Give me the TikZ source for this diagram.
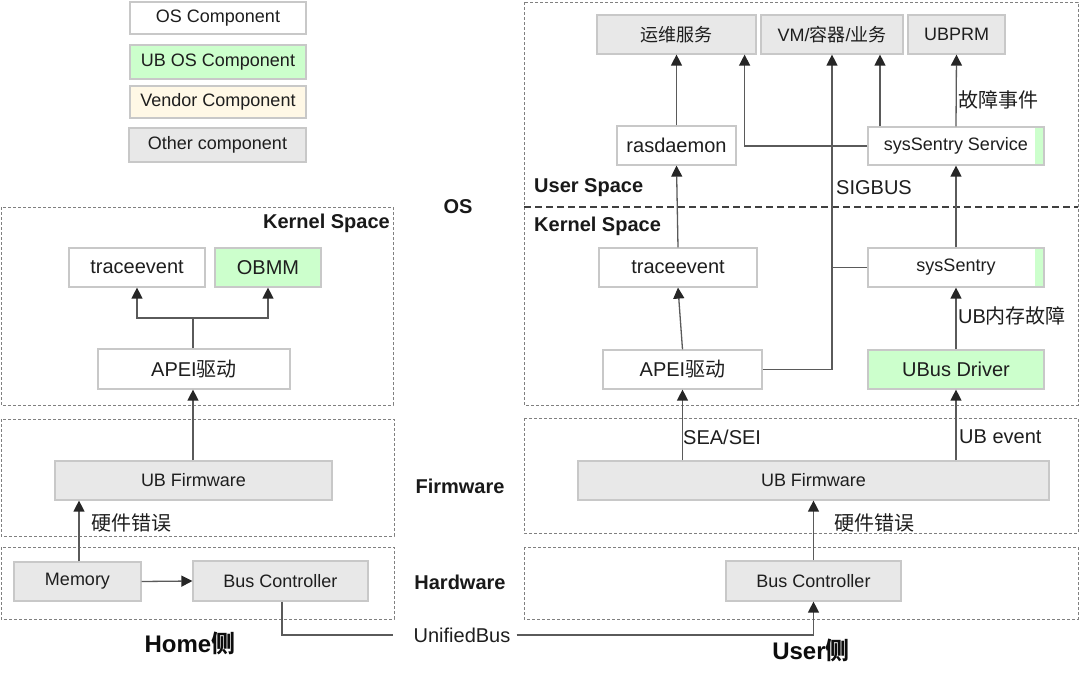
\documentclass[tikz,border=0pt]{standalone}
\usepackage{fontspec}
\setmainfont{Liberation Sans}
\newfontfamily\cjk{Noto Sans CJK SC}
\usetikzlibrary{arrows.meta}
\newcommand\zh[1]{{\cjk #1}}
\definecolor{boxline}{HTML}{C8C8C8}
\definecolor{ubgreen}{HTML}{CCFFCC}
\definecolor{vendorc}{HTML}{FFF8E6}
\definecolor{othergray}{HTML}{E8E8E8}
\definecolor{framecol}{HTML}{808080}
\definecolor{linecol}{HTML}{5A5A5A}
\definecolor{txt}{HTML}{1E1E1E}
\tikzset{
  box/.style={draw=boxline, line width=1.2pt, inner sep=0pt, text=txt, font=\fontsize{18}{20}\selectfont},
  wbox/.style={box, fill=white},
  gbox/.style={box, fill=ubgreen},
  obox/.style={box, fill=othergray},
  vbox/.style={box, fill=vendorc},
  ssbox/.style={wbox, path picture={\fill[ubgreen] ([xshift=-9pt]path picture bounding box.north east) rectangle (path picture bounding box.south east);}},
  kfont/.style={font=\fontsize{20}{22}\selectfont},
  frame/.style={draw=framecol, line width=1pt, dash pattern=on 3pt off 2pt},
  sepline/.style={draw=black!75, line width=2pt, dash pattern=on 7pt off 4pt},
  ln/.style={draw=linecol, line width=1.3pt},
  arr/.style={ln, -{Triangle[length=11pt,width=11pt,color=black!85]}},
  lbl/.style={text=txt, font=\fontsize{20}{22}\selectfont, inner sep=0pt, anchor=west},
  blbl/.style={font=\bfseries\fontsize{20}{22}\selectfont, text=black!90, inner sep=0pt},
  slbl/.style={font=\bfseries\fontsize{24}{26}\selectfont, text=black!95, inner sep=0pt},
}
\begin{document}
\begin{tikzpicture}[x=1pt,y=-1pt]
\useasboundingbox[fill=white] (0,0) rectangle (1080,681);

% ---- frames ----
\draw[frame] (1,207) rectangle (393,405);
\draw[frame] (1,419) rectangle (394,536);
\draw[frame] (1,547) rectangle (394,619);
\draw[frame] (524,2) rectangle (1078,405);
\draw[sepline] (524,207) -- (1078,207);
\draw[frame] (524,418) rectangle (1078,533);
\draw[frame] (524,547) rectangle (1078,619);

% ---- legend ----
\node[wbox, minimum width=176pt, minimum height=32pt] (lg1) at (218,18) {OS Component};
\node[gbox, minimum width=176pt, minimum height=34pt] (lg2) at (218,62) {UB OS Component};
\node[vbox, minimum width=176pt, minimum height=32pt] (lg3) at (218,102) {Vendor Component};
\node[obox, minimum width=177pt, minimum height=34pt] (lg4) at (217.5,145) {Other component};

% ---- left side (Home) ----
\node[wbox, kfont, minimum width=136pt, minimum height=39pt] (Ltrace) at (137,267.5) {traceevent};
\node[gbox, kfont, minimum width=106pt, minimum height=39pt] (Lobmm) at (268,267.5) {OBMM};
\node[wbox, kfont, minimum width=192pt, minimum height=40pt] (Lapei) at (194,369) {APEI\zh{驱动}};
\node[obox, minimum width=277pt, minimum height=39pt] (Lfw) at (193.5,480.5) {UB Firmware};
\node[obox, minimum width=127pt, minimum height=39pt] (Lmem) at (77.5,581.5) {Memory};
\node[obox, minimum width=175pt, minimum height=40pt] (Lbus) at (280.5,581) {Bus Controller};

\node[blbl, anchor=east] (LkLbl) at (390,223) {Kernel Space};
\node[lbl] (Lhw) at (91,523) {\zh{硬件错误}};
\node[slbl] (home) at (190,643) {Home\zh{侧}};

\coordinate (Lj) at (193,318);
\draw[ln] (Lapei.north -| Lj) -- (Lj);
\draw[arr] (Lj) -| (Ltrace.south);
\draw[arr] (Lj) -| (Lobmm.south);
\draw[arr] (Lfw.north -| Lj) -- (Lapei.south -| Lj);
\draw[arr] ([xshift=1.5pt]Lmem.north) -- ([xshift=1.5pt]Lmem.north |- Lfw.south);
\draw[arr] (Lmem.east) -- (Lbus.west);

% ---- middle labels ----
\node[blbl] (osl) at (458,207) {OS};
\node[blbl] (fwl) at (460,486) {Firmware};
\node[blbl] (hwl) at (460,582) {Hardware};

% ---- right side (User) ----
\node[obox, minimum width=159pt, minimum height=39pt] (Rops) at (676.5,34.5) {\zh{运维服务}};
\node[obox, minimum width=142pt, minimum height=39pt] (Rvm) at (832,34.5) {VM/\zh{容器}/\zh{业务}};
\node[obox, minimum width=97pt, minimum height=39pt] (Rubprm) at (956.5,34.5) {UBPRM};
\node[wbox, kfont, minimum width=119pt, minimum height=39pt] (Rras) at (676.5,145.5) {rasdaemon};
\node[ssbox, minimum width=176pt, minimum height=38pt] (Rsss) at (956,146) {sysSentry Service};
\node[wbox, kfont, minimum width=158pt, minimum height=39pt] (Rtrace) at (678,267.5) {traceevent};
\node[ssbox, minimum width=176pt, minimum height=39pt] (Rss) at (956,267.5) {sysSentry};
\node[wbox, kfont, minimum width=159pt, minimum height=39pt] (Rapei) at (682.5,369.5) {APEI\zh{驱动}};
\node[gbox, kfont, minimum width=176pt, minimum height=39pt] (Rubus) at (956,369.5) {UBus Driver};
\node[obox, minimum width=471pt, minimum height=39pt] (Rfw) at (813.5,480.5) {UB Firmware};
\node[obox, minimum width=175pt, minimum height=40pt] (Rbus) at (813.5,581) {Bus Controller};

\node[blbl, anchor=west] (RuLbl) at (534,188) {User Space};
\node[blbl, anchor=west] (RkLbl) at (534,226) {Kernel Space};
\node[lbl] (Lfault) at (958,100) {\zh{故障事件}};
\node[lbl] (Lsig) at (836,188) {SIGBUS};
\node[lbl] (Lmemf) at (958,316) {UB\zh{内存故障}};
\node[lbl] (Lsea) at (683,437) {SEA/SEI};
\node[lbl] (Luev) at (959,437) {UB event};
\node[lbl] (Rhw) at (834,523) {\zh{硬件错误}};
\node[slbl] (user) at (811,650) {User\zh{侧}};

\draw[arr] (Rras.north) -- (Rops.south);
\draw[arr] (Rsss.west) -| ([xshift=-12pt]Rops.south east);
\draw[arr] ([xshift=-76pt]Rsss.north) -- ([xshift=-76pt]Rsss.north |- Rvm.south);
\draw[arr] (Rsss.north) -- (Rubprm.south);
\draw[arr] (Rtrace.north) -- (Rras.south);
\draw[arr] (Rapei.north) -- (Rtrace.south);
\draw[arr] (Rss.north) -- (Rsss.south);
\draw[arr] (Rubus.north) -- (Rss.south);
\draw[arr] (Rapei.east) -| (Rvm.south);
\draw[ln] (Rss.west) -- (Rss.west -| Rvm.south);
\draw[arr] (Rfw.north -| Rapei.south) -- (Rapei.south);
\draw[arr] (Rfw.north -| Rubus.south) -- (Rubus.south);
\draw[arr] (Rbus.north) -- (Rfw.south);

% ---- UnifiedBus ----
\node[lbl, anchor=center, inner sep=0pt] (ub) at (462,635) {UnifiedBus};
\draw[ln] ([xshift=1.5pt]Lbus.south) |- ([xshift=-20pt]ub.west);
\draw[arr] ([xshift=6pt]ub.east) -| (Rbus.south);
\end{tikzpicture}
\end{document}
